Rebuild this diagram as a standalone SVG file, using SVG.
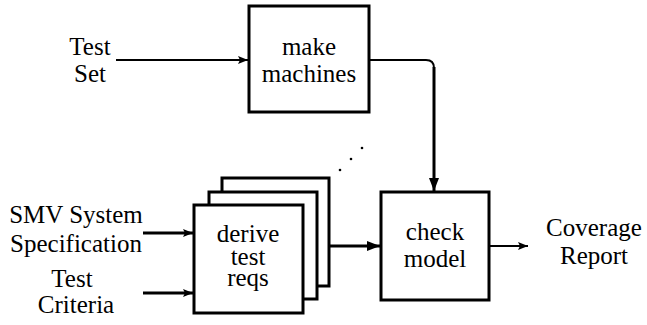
<svg xmlns="http://www.w3.org/2000/svg" width="647" height="325" viewBox="0 0 647 325">
  <style>
    .box { fill: #fff; stroke: #000; stroke-width: 3; }
    .lbl { font-family: 'Liberation Serif', 'DejaVu Serif', serif; font-size: 25px; fill: #000; text-anchor: middle; }
    .thin { fill: none; stroke: #000; stroke-width: 2; }
    .thick { fill: none; stroke: #000; stroke-width: 3; }
    .dot { fill: #000; }
  </style>
  <defs>
    <marker id="arrSmall" viewBox="0 0 10 8" refX="10" refY="4" markerWidth="10" markerHeight="8" markerUnits="userSpaceOnUse" orient="auto">
      <path d="M0,0 L10,4 L0,8 L2,4 Z" fill="#000"/>
    </marker>
    <marker id="arrBig" viewBox="0 0 13 10" refX="13" refY="5" markerWidth="13" markerHeight="10" markerUnits="userSpaceOnUse" orient="auto">
      <path d="M0,0 L13,5 L0,10 Z" fill="#000"/>
    </marker>
  </defs>

  <!-- inputs and outputs as plain labels -->
  <g id="test-set">
    <text class="lbl" x="90" y="55">Test</text>
    <text class="lbl" x="90" y="82">Set</text>
  </g>
  <g id="smv-spec">
    <text class="lbl" x="76" y="223">SMV System</text>
    <text class="lbl" x="76" y="252">Specification</text>
  </g>
  <g id="test-criteria">
    <text class="lbl" x="72" y="287">Test</text>
    <text class="lbl" x="76" y="313">Criteria</text>
  </g>
  <g id="coverage-report">
    <text class="lbl" x="594" y="236">Coverage</text>
    <text class="lbl" x="594" y="264">Report</text>
  </g>

  <!-- process boxes -->
  <g id="make-machines">
    <rect class="box" x="249" y="6" width="120" height="106"/>
    <text class="lbl" x="309" y="55">make</text>
    <text class="lbl" x="309" y="82">machines</text>
  </g>
  <g id="derive-test-reqs">
    <!-- stacked copies, back to front -->
    <rect class="box" x="222" y="178" width="107" height="108"/>
    <rect class="box" x="209" y="192" width="108" height="107"/>
    <rect class="box" x="194" y="205" width="109" height="108"/>
    <text class="lbl"><tspan x="248" y="242">derive</tspan><tspan x="248" y="265">test</tspan><tspan x="248" y="286">reqs</tspan></text>
    <circle class="dot" cx="340" cy="170" r="1.3"/>
    <circle class="dot" cx="351" cy="159" r="1.3"/>
    <circle class="dot" cx="362" cy="148" r="1.3"/>
  </g>
  <g id="check-model">
    <rect class="box" x="381" y="192" width="108" height="108"/>
    <text class="lbl" x="435" y="240">check</text>
    <text class="lbl" x="435" y="267">model</text>
  </g>

  <!-- connectors -->
  <g id="connectors">
    <path class="thin" d="M116,60 H248" marker-end="url(#arrSmall)"/>
    <path class="thin" d="M369,60 H426 Q434,60 434,68"/>
    <path class="thick" d="M434,67 V191" marker-end="url(#arrBig)"/>
    <path class="thick" d="M143,233 H193" marker-end="url(#arrSmall)"/>
    <path class="thick" d="M143,293 H193" marker-end="url(#arrSmall)"/>
    <path class="thick" d="M330,246 H380" marker-end="url(#arrBig)"/>
    <path class="thin" d="M490,246 H528" marker-end="url(#arrSmall)"/>
  </g>
</svg>
